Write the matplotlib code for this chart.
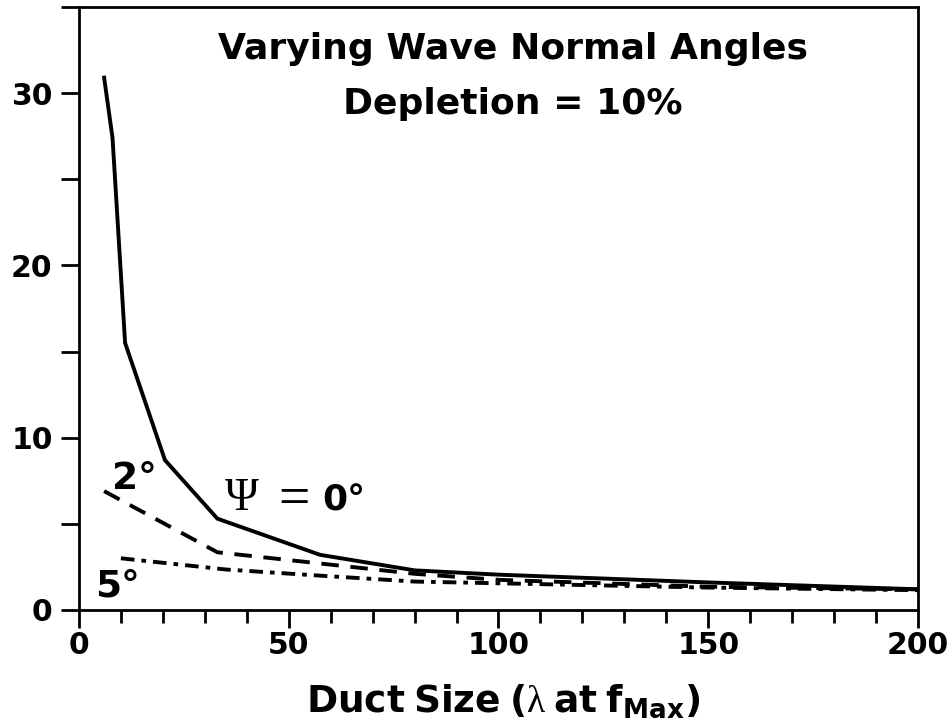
import matplotlib
matplotlib.use("Agg")
import matplotlib.pyplot as plt
from matplotlib.ticker import MultipleLocator

# Duct size (wavelengths at f_Max) and the corresponding values for each angle
duct_0 = [6, 8, 11, 20.5, 33, 57.5, 80, 100, 150, 200]
vals_0 = [30.9, 27.4, 15.5, 8.7, 5.3, 3.2, 2.3, 2.05, 1.6, 1.2]

duct_2 = [6, 33, 80, 100, 150, 200]
vals_2 = [6.9, 3.35, 2.1, 1.75, 1.35, 1.2]

duct_5 = [10, 35, 57, 80, 100, 150, 200]
vals_5 = [3.0, 2.35, 2.0, 1.65, 1.55, 1.3, 1.15]

x_ticks = [0, 50, 100, 150, 200]
y_ticks = [0, 5, 10, 15, 20, 25, 30, 35]
y_tick_labels = ["0", "", "10", "", "20", "", "30", ""]

title_lines = ["Varying Wave Normal Angles", "Depletion = 10%"]

plt.rcParams["font.family"] = ["DejaVu Sans"]
plt.rcParams["font.weight"] = "bold"
plt.rcParams["mathtext.fontset"] = "custom"
plt.rcParams["mathtext.rm"] = "Liberation Serif:weight=normal"
plt.rcParams["mathtext.bf"] = "DejaVu Sans:weight=bold"
plt.rcParams["mathtext.it"] = "Liberation Serif:italic:weight=normal"

fig = plt.figure(figsize=(9.49, 7.2), dpi=100)
ax = fig.add_axes([0.0832, 0.1528, 0.8841, 0.8375])

lw = 2.8
ax.plot(duct_0, vals_0, color="black", lw=lw, solid_joinstyle="miter")
ax.plot(duct_2, vals_2, color="black", lw=lw, linestyle=(0, (4.5, 3.0)),
        dash_capstyle="butt")
ax.plot(duct_5, vals_5, color="black", lw=lw,
        linestyle=(0, (3.5, 1.8, 1.2, 1.8)), dash_capstyle="butt")

ax.set_xlim(0, 200)
ax.set_ylim(0, 35)

ax.set_xticks(x_ticks)
ax.xaxis.set_minor_locator(MultipleLocator(10))
ax.set_yticks(y_ticks)
ax.set_yticklabels(y_tick_labels)

for side in ax.spines.values():
    side.set_linewidth(2.0)

ax.tick_params(axis="x", which="major", direction="out", length=13, width=2.0,
               labelsize=21.5, pad=2)
ax.tick_params(axis="x", which="minor", direction="out", length=9, width=2.0)
ax.tick_params(axis="y", which="major", direction="out", length=13, width=2.0,
               labelsize=21.5, pad=6)
for lab in ax.get_xticklabels() + ax.get_yticklabels():
    lab.set_fontweight("bold")

ax.set_xlabel(r"$\mathbf{Duct\ Size\ (}\mathrm{\lambda}\mathbf{\ at\ f_{Max})}$",
              fontsize=27)
ax.xaxis.label.set_verticalalignment("baseline")
ax.xaxis.set_label_coords(0.505, -0.169)

# Title block inside the axes
ax.text(0.517, 0.913, title_lines[0], transform=ax.transAxes, ha="center",
        va="baseline", fontsize=26, fontweight="bold")
ax.text(0.517, 0.822, title_lines[1], transform=ax.transAxes, ha="center",
        va="baseline", fontsize=26, fontweight="bold")

# Curve annotations
ax.text(34.8, 5.78, "Ψ", fontsize=33, family="Liberation Serif",
        fontweight="normal", ha="left", va="baseline")
ax.text(47.6, 5.5, "=", fontsize=40, family="Liberation Serif",
        fontweight="normal", ha="left", va="baseline")
ax.text(58.0, 5.78, "0°", fontsize=26, fontweight="bold", ha="left", va="baseline")
ax.text(7.8, 7.03, "2°", fontsize=27, fontweight="bold", ha="left", va="baseline")
ax.text(3.8, 0.77, "5°", fontsize=27, fontweight="bold", ha="left", va="baseline")

fig.savefig("out.png", dpi=100, facecolor="white")
